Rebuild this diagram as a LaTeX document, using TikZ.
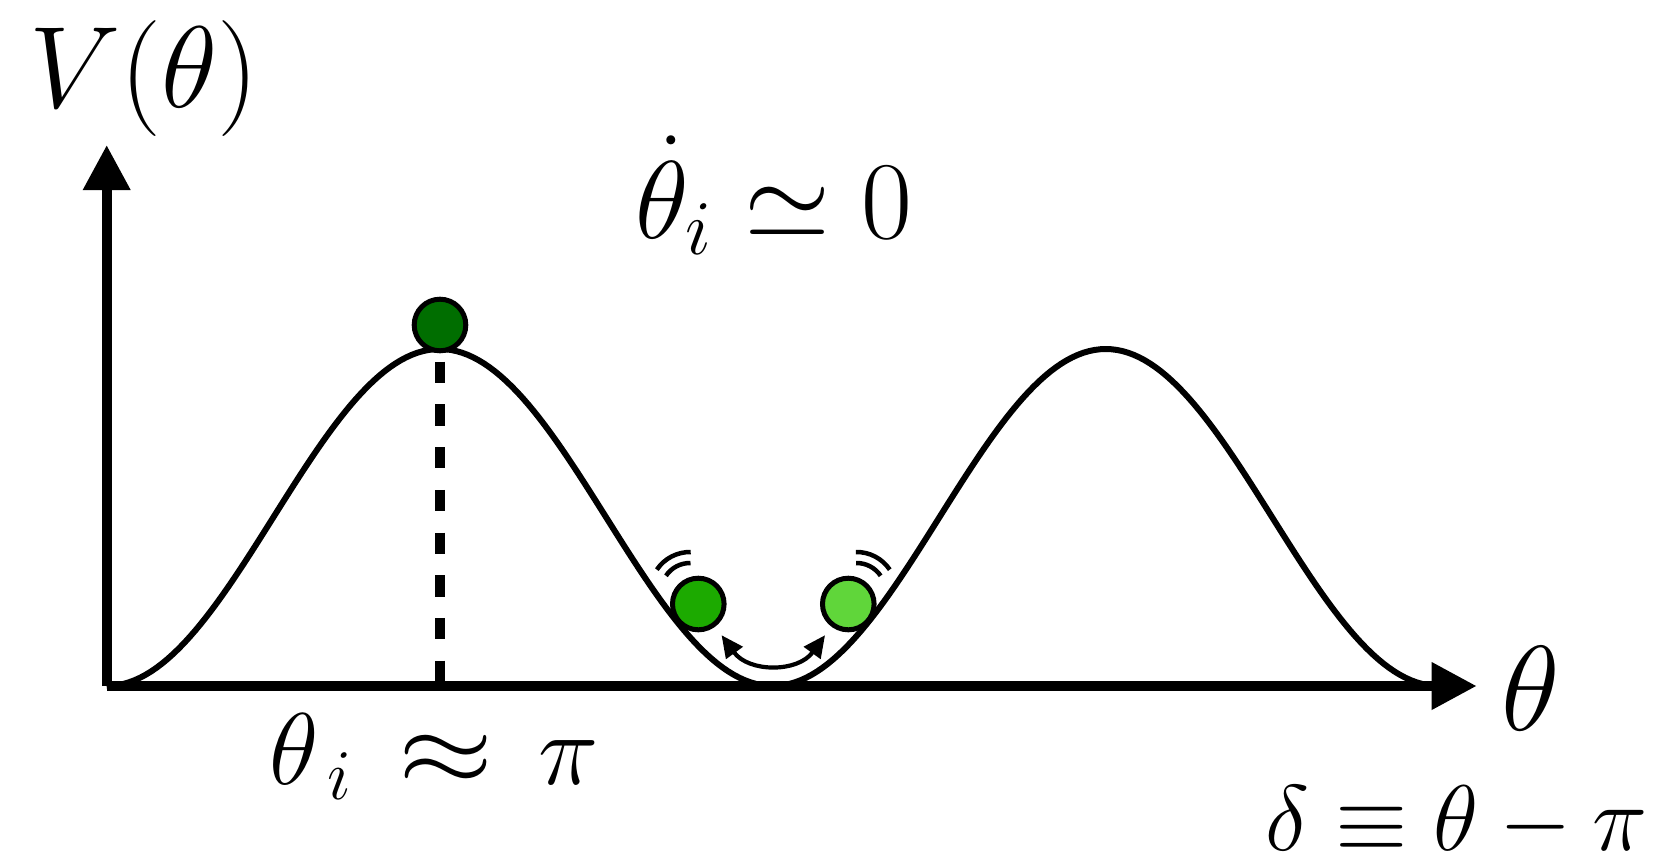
\RequirePackage{fix-cm}
\documentclass[tikz,border=0pt]{standalone}
\usepackage{graphicx}
\usepackage{tikz}
\usetikzlibrary{arrows.meta,calc}
\definecolor{balldark}{RGB}{0,110,0}
\definecolor{ballmid}{RGB}{28,170,0}
\definecolor{balllight}{RGB}{96,214,58}
\newcommand{\wideapprox}{\mathrel{\scalebox{1.2}[1]{$\approx$}}}

\begin{document}
\begin{tikzpicture}[
  axis/.style={line width=0.1cm,-{Triangle[length=0.45cm,width=0.45cm]}},
  potential/.style={line width=0.06cm,line join=round},
  guide/.style={line width=0.107cm,dash pattern=on 0.213cm off 0.214cm},
  ball/.style={circle,draw=black,line width=0.05cm,minimum size=0.516cm,inner sep=0pt},
  swing/.style={line width=0.042cm,{Triangle[length=0.22cm,width=0.2cm]}-{Triangle[length=0.22cm,width=0.2cm]}},
  wiggle/.style={line width=0.045cm},
  lbl/.style={inner sep=0pt,anchor=base}
]
  \useasboundingbox (-1.067,-1.76) rectangle (15.493,6.86);

  % axes and potential
  \coordinate (origin) at (0,0);
  \coordinate (xend) at (13.7,0);
  \coordinate (yend) at (0,5.41);
  \draw[potential] plot[domain=0:13.32,samples=241] (\x,{1.685*(1-cos(54.05*\x))});
  \draw[axis] (origin) -- (xend);
  \draw[axis] (origin) -- (yend);

  \coordinate (peak) at (3.333,3.243);
  \coordinate (peakfoot) at (3.333,0.043);
  \draw[guide] (peak) -- (peakfoot);

  % balls
  \node[ball,fill=balldark] (btop) at (3.333,3.61) {};
  \node[ball,fill=ballmid] (bleft) at (5.916,0.82) {};
  \node[ball,fill=balllight] (bright) at (7.416,0.82) {};

  \draw[swing,shorten <=0.106cm,shorten >=0.106cm] (bleft.-53) to[bend right=54,looseness=1.26] (bright.-127);
  \foreach \r in {0.29,0.40} {
    \draw[wiggle] ($(bleft.center)+(-0.083,0.12)+(146:\r)$) arc[start angle=146,end angle=89,radius=\r];
    \draw[wiggle] ($(bright.center)+(0.083,0.12)+(34:\r)$) arc[start angle=34,end angle=91,radius=\r];
  }

  % labels
  \node[lbl,font=\fontsize{33}{38}\selectfont] (vlabel) at (0.373,5.79) {$V(\theta)$};
  \node[lbl,font=\fontsize{31.5}{36}\selectfont] (restlabel) at (6.668,4.48) {$\dot\theta_i \simeq 0$};
  \node[lbl,font=\fontsize{29}{34}\selectfont] (toplabel) at (3.273,-0.98) {$\theta_{\,i}\,\wideapprox\,\pi$};
  \node[lbl,font=\fontsize{34.4}{40}\selectfont] (thetalabel) at (14.243,-0.44) {$\theta$};
  \node[lbl,font=\fontsize{26.5}{31}\selectfont] (deltalabel) at (13.498,-1.64) {$\delta \equiv \theta - \pi$};
\end{tikzpicture}
\end{document}
